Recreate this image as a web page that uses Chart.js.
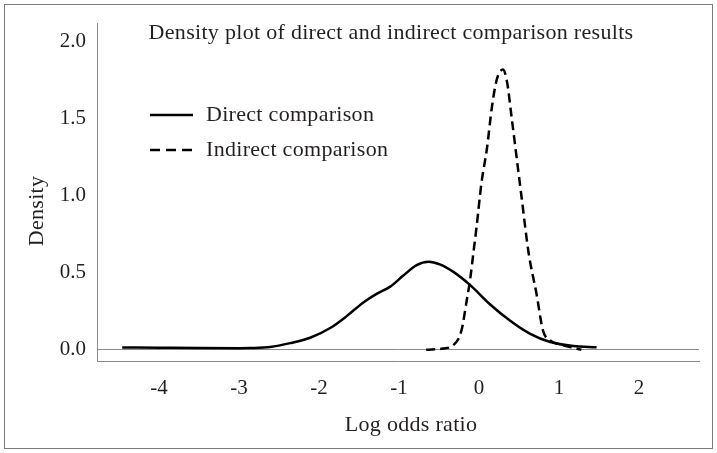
<!DOCTYPE html>
<html>
<head>
<meta charset="utf-8">
<script src="https://cdn.jsdelivr.net/npm/chart.js@4/dist/chart.umd.min.js"></script>
<style>
  html, body { margin: 0; padding: 0; background: #fff; }
</style>
</head>
<body>
<canvas id="chart" width="717" height="453"></canvas>
<script>
// curves (log odds ratio -> density)
const directX = [-4.46, -4.0, -3.5, -3.0, -2.86, -2.61, -2.36, -2.11, -1.86, -1.65, -1.45, -1.28, -1.11, -0.95, -0.78, -0.63, -0.49, -0.32, -0.11, 0.14, 0.39, 0.64, 0.89, 1.18, 1.47];
const directY = [0.015, 0.013, 0.011, 0.010, 0.011, 0.018, 0.043, 0.078, 0.141, 0.22, 0.306, 0.363, 0.41, 0.48, 0.55, 0.572, 0.555, 0.506, 0.42, 0.294, 0.188, 0.103, 0.05, 0.024, 0.016];

const indirectX = [-0.66, -0.45, -0.32, -0.22, -0.155, -0.11, -0.07, -0.03, 0.03, 0.10, 0.16, 0.22, 0.30, 0.35, 0.41, 0.47, 0.53, 0.62, 0.72, 0.80, 0.89, 1.01, 1.14, 1.28];
const indirectY = [0.0, 0.008, 0.03, 0.124, 0.315, 0.46, 0.63, 0.80, 1.08, 1.31, 1.57, 1.75, 1.82, 1.74, 1.50, 1.25, 1.00, 0.63, 0.36, 0.124, 0.06, 0.035, 0.018, 0.0];

const seriesNames = ['Direct comparison', 'Indirect comparison'];
const xTicks = [-4, -3, -2, -1, 0, 1, 2];
const yTicks = [0, 0.5, 1, 1.5, 2];

const chartTitle = 'Density plot of direct and indirect comparison results';
const xTitle = 'Log odds ratio';
const yTitle = 'Density';

const serif = "'Liberation Serif', 'Times New Roman', serif";
const ink = '#231f20';
const axisGray = '#8a8a8a';

const toPoints = (xs, ys) => xs.map((x, i) => ({ x: x, y: ys[i] }));

// title, legend, axis titles and outer frame
const decorations = {
  id: 'decorations',
  beforeDraw(chart) {
    const c = chart.ctx;
    c.save();
    c.fillStyle = '#fff';
    c.fillRect(0, 0, chart.width, chart.height);
    c.strokeStyle = '#7a7a7a';
    c.lineWidth = 1;
    c.strokeRect(4.5, 4.5, chart.width - 9, chart.height - 9);
    c.restore();
  },
  afterDraw(chart) {
    const c = chart.ctx;
    c.save();
    c.fillStyle = ink;
    c.font = '22px ' + serif;
    c.letterSpacing = '0.3px';
    c.textBaseline = 'middle';
    c.textAlign = 'center';
    c.fillText(chartTitle, 391, 33);

    // legend
    c.textAlign = 'left';
    chart.data.datasets.forEach((ds, i) => {
      const y = 115 + i * 35;
      c.beginPath();
      c.strokeStyle = ds.borderColor;
      c.lineWidth = 2.5;
      c.setLineDash(ds.borderDash ? [10, 6] : []);
      c.moveTo(150, y);
      c.lineTo(193, y);
      c.stroke();
      c.setLineDash([]);
      c.fillText(ds.label, 206, y);
    });

    // axis titles
    c.textAlign = 'center';
    c.fillText(xTitle, 411, 425);
    c.translate(37, 211);
    c.rotate(-Math.PI / 2);
    c.fillText(yTitle, 0, 0);
    c.restore();
  }
};

new Chart(document.getElementById('chart'), {
  type: 'line',
  data: {
    datasets: [
      {
        label: seriesNames[0],
        data: toPoints(directX, directY),
        borderColor: '#000',
        borderWidth: 2.5,
        pointRadius: 0,
        cubicInterpolationMode: 'monotone',
        fill: false
      },
      {
        label: seriesNames[1],
        data: toPoints(indirectX, indirectY),
        borderColor: '#000',
        borderWidth: 2.5,
        borderDash: [9, 5],
        pointRadius: 0,
        cubicInterpolationMode: 'monotone',
        fill: false
      }
    ]
  },
  options: {
    responsive: false,
    animation: false,
    devicePixelRatio: 1,
    layout: { padding: { top: 17, right: 18, left: 0, bottom: 0 } },
    plugins: {
      legend: { display: false },
      title: { display: false },
      tooltip: { enabled: false }
    },
    scales: {
      x: {
        type: 'linear',
        min: -4.775,
        max: 2.75,
        afterBuildTicks: (scale) => { scale.ticks = xTicks.map(v => ({ value: v })); },
        afterFit: (scale) => { scale.height = 92; },
        ticks: {
          color: ink,
          font: { family: serif, size: 21 },
          padding: 15,
          maxRotation: 0,
          autoSkip: false,
          callback: (v) => String(v)
        },
        grid: { display: false, drawTicks: false },
        border: { display: true, color: axisGray, width: 1 }
      },
      y: {
        type: 'linear',
        min: -0.073,
        max: 2.118,
        afterBuildTicks: (scale) => { scale.ticks = yTicks.map(v => ({ value: v })); },
        afterFit: (scale) => { scale.width = 97; },
        ticks: {
          color: ink,
          font: { family: serif, size: 21 },
          padding: 11,
          autoSkip: false,
          callback: (v) => Number(v).toFixed(1)
        },
        grid: {
          drawTicks: false,
          color: (ctx) => (ctx.tick && ctx.tick.value === 0 ? axisGray : 'rgba(0,0,0,0)'),
          lineWidth: 1
        },
        border: { display: true, color: axisGray, width: 1 }
      }
    }
  },
  plugins: [decorations]
});
</script>
</body>
</html>
